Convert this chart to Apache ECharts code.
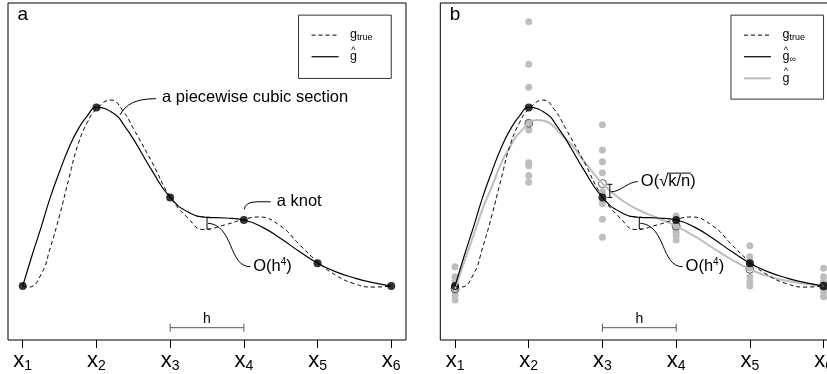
<!DOCTYPE html>
<html>
<head>
<meta charset="utf-8">
<script src="https://cdn.jsdelivr.net/npm/echarts@6/dist/echarts.min.js"></script>
<style>
html, body { margin: 0; padding: 0; background: #fff; }
#main { width: 827px; height: 374px; }
</style>
</head>
<body>
<div id="main"></div>
<script>
// knots x1..x6 and the subscripts of their tick labels
var knotX = [1, 2, 3, 4, 5, 6];
var tickLabels = ['1', '2', '3', '4', '5', '6'];

// spline values at the knots (ĝ in a, ĝ∞ in b)
var knotY = [0.160, 0.690, 0.423, 0.356, 0.228, 0.160];
// per-knot means of the noisy data (open circles in b)
var meanY = [0.152, 0.643, 0.464, 0.338, 0.210, 0.160];

// g_true, dashed
var trueX = [1, 1.08, 1.25, 1.375, 1.5, 1.625, 1.75, 1.875, 2, 2.2, 2.35, 2.5, 2.75, 3, 3.25, 3.45, 3.75, 4, 4.2, 4.5, 4.75, 5, 5.25, 5.5, 5.75, 6];
var trueY = [0.160, 0.157, 0.195, 0.275, 0.370, 0.478, 0.580, 0.645, 0.685, 0.712, 0.683, 0.628, 0.529, 0.425, 0.360, 0.328, 0.342, 0.358, 0.365, 0.338, 0.284, 0.232, 0.192, 0.167, 0.157, 0.160];

// spline through the knots, black solid
var fitX = [1, 1.125, 1.25, 1.375, 1.5, 1.625, 1.75, 1.875, 2, 2.25, 2.375, 2.5, 2.75, 3, 3.25, 3.5, 3.75, 4, 4.25, 4.5, 4.75, 5, 5.25, 5.5, 5.75, 6];
var fitY = [0.160, 0.250, 0.335, 0.424, 0.500, 0.570, 0.625, 0.665, 0.690, 0.670, 0.637, 0.597, 0.504, 0.423, 0.379, 0.364, 0.362, 0.356, 0.335, 0.301, 0.263, 0.228, 0.202, 0.184, 0.170, 0.160];

// spline through the means, grey
var greyX = [1, 1.125, 1.25, 1.375, 1.5, 1.625, 1.75, 1.875, 2.12, 2.5, 2.75, 3, 3.25, 3.5, 3.75, 4, 4.25, 4.5, 4.75, 5, 5.25, 5.5, 5.75, 6];
var greyY = [0.152, 0.232, 0.310, 0.390, 0.455, 0.524, 0.575, 0.615, 0.653, 0.598, 0.531, 0.464, 0.417, 0.385, 0.362, 0.338, 0.308, 0.273, 0.239, 0.210, 0.189, 0.176, 0.167, 0.160];

// noisy observations at each knot (grey dots in b)
var obs1 = [0.217, 0.188, 0.173, 0.160, 0.148, 0.134, 0.119];
var obs2 = [0.944, 0.818, 0.750, 0.644, 0.623, 0.526, 0.517, 0.488, 0.468];
var obs3 = [0.639, 0.564, 0.529, 0.496, 0.440, 0.404, 0.358, 0.305];
var obs4 = [0.368, 0.356, 0.344, 0.332, 0.320, 0.309, 0.297];
var obs5 = [0.280, 0.247, 0.231, 0.214, 0.188, 0.173, 0.160];
var obs6 = [0.213, 0.188, 0.173, 0.158, 0.143, 0.128];

var FONT = 'Liberation Sans, Arial, Helvetica, sans-serif';
var GREY = '#bebebe';

function pairs(xs, ys) {
    return xs.map(function (x, i) { return [x, ys[i]]; });
}
var obsData = [];
[obs1, obs2, obs3, obs4, obs5, obs6].forEach(function (col, i) {
    col.forEach(function (v) { obsData.push([knotX[i], v]); });
});

function xAxisFor(g) {
    return {
        type: 'value', gridIndex: g, min: 0.8, max: 6.2,
        splitLine: { show: false },
        axisLine: { show: false },
        axisTick: { show: true, customValues: knotX, length: 8, lineStyle: { color: '#000', width: 1 } },
        axisLabel: {
            customValues: knotX,
            margin: 8,
            color: '#000',
            fontFamily: FONT,
            formatter: function (v) { return '{m|x}{s|' + tickLabels[knotX.indexOf(v)] + '}'; },
            rich: {
                m: { fontSize: 22, fontFamily: FONT, color: '#000' },
                s: { fontSize: 14, fontFamily: FONT, color: '#000', padding: [11, 0, 0, 0] }
            }
        }
    };
}
function yAxisFor(g) {
    return { type: 'value', gridIndex: g, min: 0, max: 1, show: false };
}
function lineSeries(g, data, color, width, type) {
    return {
        type: 'line', xAxisIndex: g, yAxisIndex: g, data: data, smooth: true,
        symbol: 'none', silent: true,
        lineStyle: { color: color, width: width, type: type || 'solid' }
    };
}

var chart = echarts.init(document.getElementById('main'));
chart.setOption({
    animation: false,
    backgroundColor: '#fff',
    grid: [
        { left: 8, top: 3, width: 398, height: 337, show: true, borderColor: '#000', borderWidth: 1, outerBoundsMode: 'none' },
        { left: 440.3, top: 3, width: 398, height: 337, show: true, borderColor: '#000', borderWidth: 1, outerBoundsMode: 'none' }
    ],
    xAxis: [xAxisFor(0), xAxisFor(1)],
    yAxis: [yAxisFor(0), yAxisFor(1)],
    series: [
        // panel a
        lineSeries(0, pairs(trueX, trueY), '#000', 1, [4, 3]),
        lineSeries(0, pairs(fitX, fitY), '#000', 1.2),
        { type: 'scatter', xAxisIndex: 0, yAxisIndex: 0, data: pairs(knotX, knotY), symbolSize: 8, itemStyle: { color: '#000' }, silent: true },
        // panel b
        { type: 'scatter', xAxisIndex: 1, yAxisIndex: 1, data: obsData, symbolSize: 7, itemStyle: { color: GREY, opacity: 1 }, silent: true },
        lineSeries(1, pairs(greyX, greyY), GREY, 2),
        lineSeries(1, pairs(trueX, trueY), '#000', 1, [4, 3]),
        lineSeries(1, pairs(fitX, fitY), '#000', 1.2),
        { type: 'scatter', xAxisIndex: 1, yAxisIndex: 1, data: pairs(knotX, meanY), symbolSize: 8, itemStyle: { color: 'rgba(0,0,0,0)', borderColor: '#333', borderWidth: 1 }, silent: true },
        { type: 'scatter', xAxisIndex: 1, yAxisIndex: 1, data: pairs(knotX, knotY), symbolSize: 8, itemStyle: { color: '#000' }, silent: true }
    ]
});

// annotations, legends and panel letters
var els = [];
function P(g, x, y) { return chart.convertToPixel({ gridIndex: g }, [x, y]); }
function seg(x1, y1, x2, y2, color) {
    els.push({ type: 'line', silent: true, z: 100, shape: { x1: x1, y1: y1, x2: x2, y2: y2 }, style: { stroke: color || '#000', lineWidth: 1, lineDash: null } });
}
function dseg(x1, y1, x2, y2, color, w, dash) {
    els.push({ type: 'line', silent: true, z: 100, shape: { x1: x1, y1: y1, x2: x2, y2: y2 }, style: { stroke: color, lineWidth: w, lineDash: dash } });
}
function curve(a, c1, c2, b) {
    els.push({ type: 'bezierCurve', silent: true, z: 100,
        shape: { x1: a[0], y1: a[1], cpx1: c1[0], cpy1: c1[1], cpx2: c2[0], cpy2: c2[1], x2: b[0], y2: b[1] },
        style: { stroke: '#000', fill: null, lineWidth: 1 } });
}
function txt(x, y, t, size, align, rich) {
    els.push({ type: 'text', silent: true, z: 100, x: x, y: y,
        style: { text: t, font: size + 'px ' + FONT, fontSize: size, fontFamily: FONT, fill: '#000', align: align || 'left', verticalAlign: 'middle', rich: rich } });
}
var mctx = document.createElement('canvas').getContext('2d');
function measure(t, size) { mctx.font = size + 'px ' + FONT; return mctx.measureText(t).width; }

var richSup = {
    n: { fontSize: 16.5, fontFamily: FONT, fill: '#000' },
    p: { fontSize: 10, fontFamily: FONT, fill: '#000', padding: [0, 0, 9, 0] }
};

[0, 1].forEach(function (g) {
    // panel letter
    var pl = P(g, 1, 0.964);
    txt(pl[0], pl[1], g === 0 ? 'a' : 'b', 19, 'center');

    // h scale bar
    var h1 = P(g, 3, 0.0365), h2 = P(g, 4, 0.0365);
    seg(h1[0], h1[1], h2[0], h2[1], '#555');
    seg(h1[0], h1[1] - 4, h1[0], h1[1] + 4, '#555');
    seg(h2[0], h2[1] - 4, h2[0], h2[1] + 4, '#555');
    txt((h1[0] + h2[0]) / 2, h1[1] - 9, 'h', 14, 'center');

    // O(h^4) gap between the fit and the truth
    var bt = P(g, 3.5, 0.364), bb = P(g, 3.5, 0.329);
    seg(bt[0], bt[1], bt[0], bb[1]);
    seg(bt[0], bt[1], bt[0] + 3, bt[1]);
    seg(bb[0], bb[1], bb[0] + 3, bb[1]);
    var ot = P(g, 4.128, 0.2175);
    var s = [bt[0] + 1, (bt[1] + bb[1]) / 2];
    var e = [ot[0] - 3, ot[1]];
    curve(s, [s[0] + 26, s[1] + 2], [e[0] - 22, e[1]], e);
    txt(ot[0], ot[1], '{n|O(h}{p|4}{n|)}', 16.5, 'left', richSup);
});

// panel a: curve labels
var pc = P(0, 2.89, 0.719);
var pcFrom = [pc[0] - 6, pc[1] + 1], pcTo = P(0, 2.32, 0.668);
curve(pcFrom, [pcFrom[0] - 20, pcFrom[1]], [pcTo[0] + 6, pcTo[1] - 11], pcTo);
txt(pc[0], pc[1], 'a piecewise cubic section', 16.5, 'left');

var kn = P(0, 4.446, 0.41);
var knFrom = [kn[0] - 6, kn[1]], knTo = P(0, 4.005, 0.388);
curve(knFrom, [knFrom[0] - 14, knFrom[1]], [knTo[0] + 2, knTo[1] - 9], knTo);
txt(kn[0], kn[1], 'a knot', 16.5, 'left');

// panel b: O(sqrt(k/n)) gap between the two fits
var it = P(1, 3.1, 0.462), ib = P(1, 3.1, 0.423);
seg(it[0], it[1], it[0], ib[1]);
seg(it[0] - 2.5, it[1], it[0] + 2.5, it[1]);
seg(ib[0] - 2.5, ib[1], ib[0] + 2.5, ib[1]);
var sq = P(1, 3.521, 0.47);
var sqFrom = [it[0] + 1, (it[1] + ib[1]) / 2 + 1], sqTo = [sq[0] - 3, sq[1]];
curve(sqFrom, [sqFrom[0] + 10, sqFrom[1]], [sqTo[0] - 10, sqTo[1]], sqTo);
txt(sq[0], sq[1], 'O(√k/n)', 16.5, 'left');
var w0 = measure('O(√', 16.5), w1 = measure('k/n', 16.5);
seg(sq[0] + w0 - 1, sq[1] - 8.5, sq[0] + w0 + w1 + 0.5, sq[1] - 8.5);

// legends
function legendBox(g, w, h, rows) {
    var tr = P(g, 6, 0.964);
    var x = tr[0] - w, y = tr[1];
    els.push({ type: 'rect', silent: true, z: 99, shape: { x: x, y: y, width: w, height: h }, style: { fill: '#fff', stroke: '#333', lineWidth: 1 } });
    rows.forEach(function (r, i) {
        var ry = y + 20 + i * 21.6;
        dseg(x + 13, ry, x + 40, ry, r.color, r.width, r.dash);
        var tx = x + 51.5;
        if (r.hat) {
            txt(tx + 3.3, ry - 6.5, '^', 9, 'center');
            txt(tx, ry, r.label, 12, 'left', r.rich);
        } else {
            txt(tx, ry - 1, r.label, 12, 'left', r.rich);
        }
    });
}
var richSub = {
    g: { fontSize: 12.5, fontFamily: FONT, fill: '#000' },
    s: { fontSize: 9, fontFamily: FONT, fill: '#000', padding: [6, 0, 0, 0] }
};
legendBox(0, 92.7, 63.3, [
    { label: '{g|g}{s|true}', rich: richSub, color: '#000', width: 1, dash: [4, 3] },
    { label: '{g|g}', rich: richSub, hat: true, color: '#000', width: 1.2, dash: null }
]);
legendBox(1, 92.6, 84, [
    { label: '{g|g}{s|true}', rich: richSub, color: '#000', width: 1, dash: [4, 3] },
    { label: '{g|g}{s|∞}', rich: richSub, hat: true, color: '#000', width: 1.2, dash: null },
    { label: '{g|g}', rich: richSub, hat: true, color: GREY, width: 2, dash: null }
]);

chart.setOption({ graphic: { elements: els } });
</script>
</body>
</html>
